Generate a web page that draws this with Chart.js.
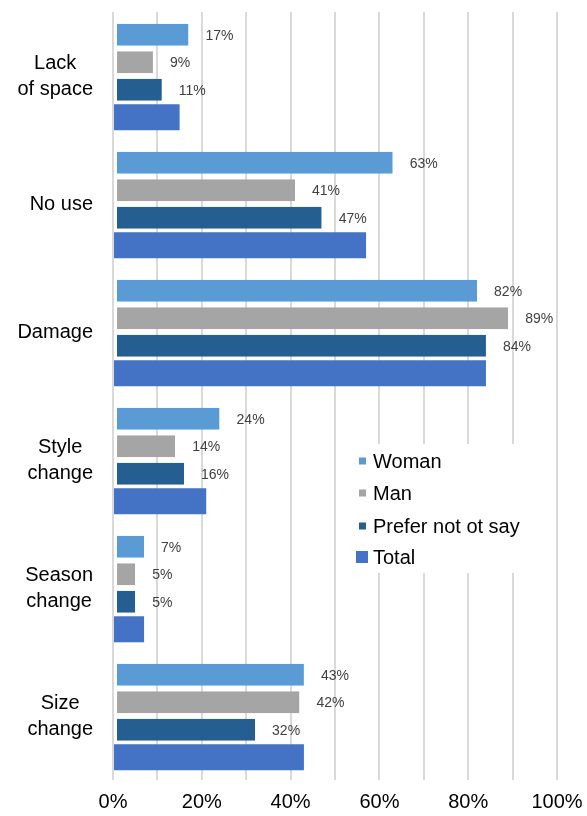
<!DOCTYPE html>
<html>
<head>
<meta charset="utf-8">
<script src="https://cdn.jsdelivr.net/npm/chart.js@4/dist/chart.umd.min.js"></script>
<style>
  html, body { margin: 0; padding: 0; background: #fff; }
  canvas { display: block; }
</style>
</head>
<body>
<canvas id="chart" width="587" height="816"></canvas>
<script>
const categories = [["Lack", "of space"], ["No use"], ["Damage"], ["Style", "change"], ["Season", "change"], ["Size", "change"]];
const seriesNames = ["Woman", "Man", "Prefer not ot say", "Total"];
const woman = [17, 63, 82, 24, 7, 43];
const man = [9, 41, 89, 14, 5, 42];
const preferNot = [11, 47, 84, 16, 5, 32];
const total = [15, 57, 84, 21, 7, 43];
const xTickLabels = [0, 20, 40, 60, 80, 100];

const FONT = '"Liberation Sans", Arial, sans-serif';
const colors = ["#5b9bd5", "#a5a5a5", "#255e91", "#4472c4"];

function barSet(i, data, withLabels) {
  const ds = {
    label: seriesNames[i], data, backgroundColor: colors[i],
    barPercentage: withLabels ? 0.8 : 0.945, categoryPercentage: 0.86,
    showValues: withLabels
  };
  if (withLabels) {
    // small white inset at the axis like the original
    ds.borderWidth = { left: 3, top: 0, right: 0, bottom: 0 };
    ds.borderColor = "#fff";
    ds.borderSkipped = false;
  }
  return ds;
}

// value labels right of the bars (Total has none)
const valueLabels = {
  id: "valueLabels",
  afterDatasetsDraw(chart) {
    const ctx = chart.ctx;
    ctx.save();
    ctx.font = "14px " + FONT; ctx.fillStyle = "#404040";
    ctx.textAlign = "left"; ctx.textBaseline = "middle";
    chart.data.datasets.forEach((ds, di) => {
      if (!ds.showValues) return;
      chart.getDatasetMeta(di).data.forEach((bar, i) => ctx.fillText(ds.data[i] + "%", bar.x + 17, bar.y + 1));
    });
    ctx.restore();
  }
};

// category labels: block right-aligned, lines centred in the block
const catLabels = {
  id: "catLabels",
  afterDraw(chart) {
    const ctx = chart.ctx, y = chart.scales.y;
    ctx.save();
    ctx.font = "20px " + FONT; ctx.fillStyle = "#000";
    ctx.textAlign = "center"; ctx.textBaseline = "middle";
    categories.forEach((lines, i) => {
      const cy = y.getPixelForTick(i);
      const w = Math.max(...lines.map(l => ctx.measureText(l).width));
      const cx = 93 - w / 2, lh = 26;
      lines.forEach((l, k) => ctx.fillText(l, cx, cy - (lines.length - 1) * lh / 2 + k * lh));
    });
    ctx.restore();
  }
};

// legend box sitting over the grid
const legendBox = {
  id: "legendBox",
  afterDraw(chart) {
    const ctx = chart.ctx;
    ctx.save();
    ctx.fillStyle = "#fff"; ctx.fillRect(338, 444, 216, 129);
    ctx.font = "20px " + FONT; ctx.textAlign = "left"; ctx.textBaseline = "middle";
    const ys = [461, 493, 526, 557];
    seriesNames.forEach((name, i) => {
      ctx.fillStyle = colors[i];
      if (i === 3) ctx.fillRect(356, ys[i] - 6, 12, 12);
      else ctx.fillRect(359, ys[i] - 3.5, 7, 7);
      ctx.fillStyle = "#000";
      ctx.fillText(name, 373, ys[i] + 1);
    });
    ctx.restore();
  }
};

new Chart(document.getElementById("chart"), {
  type: "bar",
  data: {
    labels: categories.map(c => c.join(" ")),
    datasets: [barSet(0, woman, true), barSet(1, man, true), barSet(2, preferNot, true), barSet(3, total, false)]
  },
  options: {
    indexAxis: "y", responsive: false, animation: false,
    layout: { padding: { top: 12, right: 30, left: 0, bottom: 0 } },
    plugins: { legend: { display: false }, tooltip: { enabled: false } },
    scales: {
      x: {
        min: 0, max: 100,
        afterFit: s => { s.height = 36; s.paddingLeft = 0; s.paddingRight = 0; },
        ticks: {
          stepSize: 10, autoSkip: false, maxRotation: 0, padding: 10, color: "#000",
          font: { family: FONT, size: 20 },
          callback: v => xTickLabels.includes(v) ? v + "%" : ""
        },
        grid: { color: "#d9d9d9", lineWidth: 2, drawTicks: false },
        border: { display: false }
      },
      y: {
        afterFit: s => { s.width = 113; },
        ticks: { display: false },
        grid: { display: false },
        border: { display: false }
      }
    }
  },
  plugins: [valueLabels, catLabels, legendBox]
});
</script>
</body>
</html>
